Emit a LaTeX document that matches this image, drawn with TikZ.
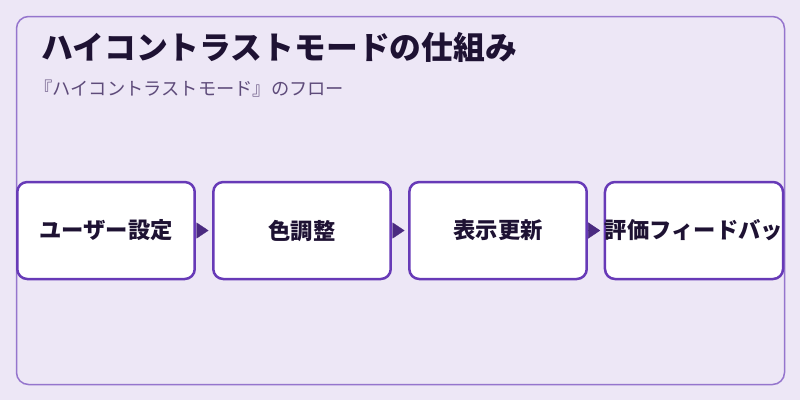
\documentclass[tikz,border=0pt]{standalone}
\usepackage{fontspec}
\setmainfont{Noto Sans CJK JP}
\usetikzlibrary{arrows.meta}
\definecolor{pagebg}{HTML}{EDE7F6}
\definecolor{framecol}{HTML}{9575CD}
\definecolor{boxcol}{HTML}{673AB7}
\definecolor{tipcol}{HTML}{4A2A80}
\definecolor{inkcol}{HTML}{1E1233}
\definecolor{subcol}{HTML}{5E4B7A}
\tikzset{
  stagebox/.style={draw=boxcol,line width=0.05cm,fill=white,rounded corners=0.2cm,
    minimum width=3.55cm,minimum height=1.94cm,inner sep=0pt,
    font=\fontsize{12.7pt}{12.7pt}\selectfont\bfseries,text=inkcol},
  flowtip/.style={draw=tipcol,line width=0.2pt,-{Triangle[length=0.24cm,width=0.32cm]},shorten <=2pt}
}
\begin{document}
\begin{tikzpicture}[x=0.02cm,y=-0.02cm]
 \useasboundingbox[fill=pagebg](0,0) rectangle (800,400);
 \draw[framecol,line width=0.03cm,rounded corners=0.24cm](16.5,16.5) rectangle (784.5,384.5);
 % titles
 \node[anchor=west,inner sep=0pt,text=inkcol,font=\fontsize{18.1pt}{18.1pt}\selectfont\bfseries] (title) at (41,47) {ハイコントラストモードの仕組み};
 \node[anchor=west,inner sep=0pt,text=subcol,font=\fontsize{10.4pt}{10.4pt}\selectfont] (subtitle) at (34,89) {『ハイコントラストモード』のフロー};
 % stages
 \node[stagebox] (user) at (106,230.5) {ユーザー設定};
 \node[stagebox] (color) at (302,230.5) {色調整};
 \node[stagebox] (show) at (498,230.5) {表示更新};
 \node[stagebox] (review) at (694,230.5) {評価フィードバッ};
 % arrows
 \draw[flowtip](user.east) -- ([xshift=-2]color.west);
 \draw[flowtip](color.east) -- ([xshift=-2]show.west);
 \draw[flowtip](show.east) -- ([xshift=-2]review.west);
\end{tikzpicture}
\end{document}
